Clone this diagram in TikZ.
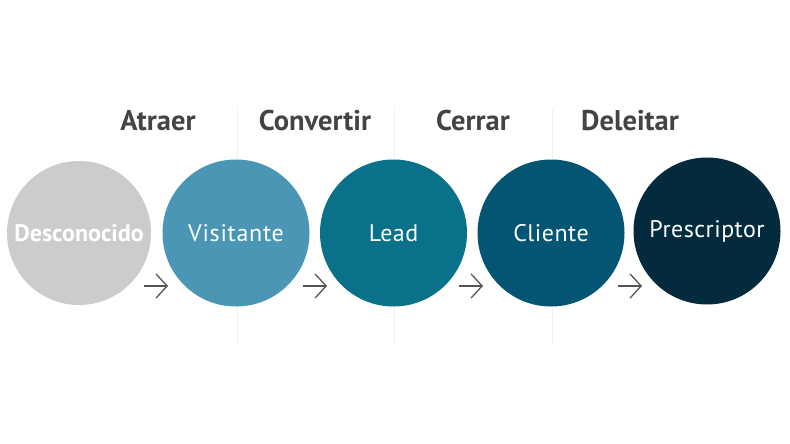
\documentclass[tikz,border=0pt]{standalone}
\usepackage{fontspec}
\setmainfont{PT Sans}
\usetikzlibrary{arrows.meta}
\definecolor{cDes}{HTML}{CCCCCC}
\definecolor{cVis}{HTML}{4B96B4}
\definecolor{cLead}{HTML}{0A718B}
\definecolor{cCli}{HTML}{035573}
\definecolor{cPre}{HTML}{032B3D}
\definecolor{labelgrey}{HTML}{444444}
\definecolor{arrowgrey}{HTML}{555555}
\definecolor{guide}{HTML}{F2F2F2}
\tikzset{
  stage/.style={circle, minimum size=147pt, inner sep=0pt, text=white, font=\fontsize{24}{28}\selectfont},
  phase/.style={text=labelgrey, font=\bfseries\fontsize{28.5}{32}\selectfont, inner sep=0pt},
  flow/.style={draw=arrowgrey, line width=1.3pt, -{Straight Barb[length=11pt,width=24pt,line width=1.3pt]}},
  guideline/.style={draw=guide, line width=0.8pt}
}
\begin{document}
\begin{tikzpicture}[x=1pt,y=-1pt]
\useasboundingbox (0,0) rectangle (790,444);
\fill[white] (0,0) rectangle (790,444);
% guide lines
\draw[guideline] (237,108) -- (237,345);
\draw[guideline] (394,108) -- (394,345);
\draw[guideline] (552,108) -- (552,345);
% circles
\node[stage, fill=cDes, minimum size=144pt, font=\bfseries\fontsize{24}{28}\selectfont] (des) at (79,233) {Desconocido};
\node[stage, fill=cVis] (vis) at (236,233) {\addfontfeatures{LetterSpace=3}Visitante};
\node[stage, fill=cLead] (lead) at (393.5,233) {\addfontfeatures{LetterSpace=2}Lead};
\node[stage, fill=cCli] (cli) at (551,233) {\addfontfeatures{LetterSpace=2}Cliente};
\node[stage, fill=cPre] (pre) at (707,231) {\addfontfeatures{LetterSpace=2}Prescriptor};
% phase labels
\node[phase] (l1) at (158,121) {Atraer};
\node[phase] (l2) at (315,121) {Convertir};
\node[phase] (l3) at (473,121) {Cerrar};
\node[phase] (l4) at (630,121) {Deleitar};
% arrows
\coordinate (a1s) at (144,286); \coordinate (a1e) at (168,286);
\coordinate (a2s) at (303,286); \coordinate (a2e) at (327,286);
\coordinate (a3s) at (459,286); \coordinate (a3e) at (483,286);
\coordinate (a4s) at (618,286); \coordinate (a4e) at (642,286);
\draw[flow] (a1s) -- (a1e);
\draw[flow] (a2s) -- (a2e);
\draw[flow] (a3s) -- (a3e);
\draw[flow] (a4s) -- (a4e);
\end{tikzpicture}
\end{document}
